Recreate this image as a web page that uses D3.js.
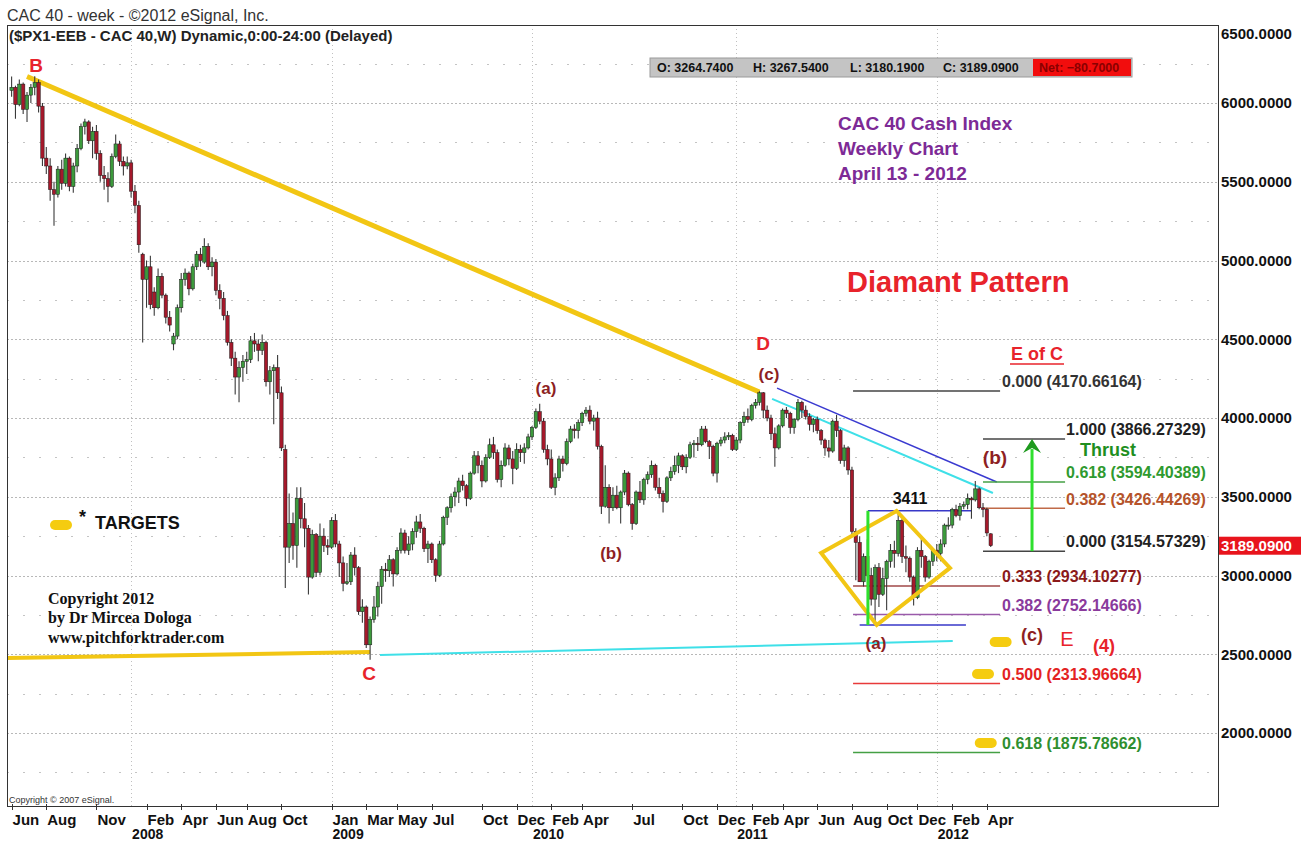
<!DOCTYPE html>
<html>
<head>
<meta charset="utf-8">
<script src="https://cdnjs.cloudflare.com/ajax/libs/d3/7.8.5/d3.min.js"></script>
<style>
  body { margin: 0; background: #fff; }
  svg { display: block; }
</style>
</head>
<body>
<div class="first"></div>
<script>
// weekly candles [open, high, low, close], one array per year
const c2007 = [
  [6080,6168,6040,6100],[6100,6110,5900,5990],[5990,6150,5980,6120],[6120,6130,5930,5960],
  [5960,6070,5880,6050],[6050,6120,6000,6100],[6100,6170,6050,6130],[6130,6150,5940,5980],
  [5980,6000,5600,5650],[5650,5720,5550,5600],[5600,5650,5380,5450],[5450,5500,5220,5420],
  [5420,5600,5400,5580],[5580,5640,5450,5490],[5490,5680,5470,5650],[5650,5660,5440,5470],
  [5470,5620,5430,5600],[5600,5740,5560,5710],[5710,5870,5700,5850],[5850,5900,5800,5880],
  [5880,5890,5740,5760],[5760,5850,5650,5820],[5820,5860,5640,5680],[5680,5700,5500,5540],
  [5540,5600,5450,5520],[5520,5560,5370,5470],[5470,5680,5460,5660],[5660,5800,5650,5740],
  [5740,5760,5600,5630],[5630,5660,5540,5600],[5600,5660,5580,5620]
];
const c2008 = [
  [5620,5640,5400,5440],[5440,5480,5300,5350],[5350,5380,5050,5100],[5040,5050,4480,4880],
  [4880,5000,4700,4960],[4960,5030,4690,4720],[4800,4830,4650,4700],[4700,4950,4690,4900],
  [4900,4920,4760,4780],[4780,4790,4600,4640],[4640,4680,4550,4590],[4470,4540,4430,4520],
  [4520,4720,4500,4700],[4700,4920,4670,4880],[4880,4950,4840,4920],[4920,4930,4780,4820],
  [4820,4980,4810,4960],[4960,5060,4940,5040],[5040,5080,4960,5000],[4990,5142,4980,5090],
  [5090,5110,4940,4960],[4960,5020,4900,4990],[4990,5010,4780,4810],[4810,4850,4690,4760],
  [4760,4800,4620,4650],[4650,4680,4460,4480],[4480,4500,4330,4380],[4380,4420,4150,4260],
  [4260,4360,4100,4320],[4320,4400,4230,4360],[4360,4420,4280,4370],[4370,4520,4350,4490],
  [4490,4540,4420,4470],[4470,4500,4360,4430],[4430,4530,4400,4480],[4480,4490,4200,4230],
  [4230,4330,4150,4300],[4300,4340,3960,4320],[4320,4400,4120,4160],[4160,4200,3790,3810],
  [3800,3830,2920,3180],[3180,3520,3080,3330],[3330,3400,3100,3190],[3190,3560,3050,3490],
  [3490,3560,3300,3360],[3360,3460,3180,3300],[3300,3320,2880,2990],[2990,3290,2980,3260],
  [3260,3270,2990,3020],[3020,3330,3000,3250],[3250,3300,3150,3190],[3190,3230,3130,3180]
];
const c2009 = [
  [3180,3370,3170,3350],[3350,3390,3180,3200],[3200,3220,2990,3080],[3080,3120,2900,2950],
  [2950,3080,2940,2960],[2960,3150,2940,3130],[3130,3180,3000,3050],[3050,3060,2750,2770],
  [2770,2850,2700,2800],[2800,2810,2540,2560],[2560,2740,2465,2720],[2720,2870,2700,2800],
  [2800,2960,2740,2930],[2930,3060,2820,3040],[3040,3080,2960,3030],[3030,3130,2990,3100],
  [3100,3110,2930,3010],[3010,3180,3000,3160],[3160,3300,3140,3270],[3270,3290,3140,3160],
  [3160,3250,3130,3200],[3200,3300,3160,3280],[3280,3380,3240,3340],[3340,3390,3270,3300],
  [3300,3310,3150,3170],[3170,3220,3080,3200],[3200,3210,3080,3100],[3100,3110,2960,3000],
  [3000,3220,2990,3200],[3200,3380,3190,3370],[3370,3440,3320,3430],[3430,3520,3400,3500],
  [3500,3560,3440,3530],[3530,3620,3460,3600],[3600,3640,3540,3570],[3570,3580,3440,3490],
  [3490,3660,3480,3650],[3650,3790,3640,3760],[3760,3790,3650,3700],[3700,3730,3560,3600],
  [3600,3770,3590,3750],[3750,3870,3740,3830],[3830,3880,3740,3780],[3780,3800,3590,3610],
  [3610,3730,3560,3700],[3700,3840,3690,3810],[3810,3830,3700,3740],[3740,3790,3580,3680],
  [3680,3840,3670,3800],[3800,3830,3720,3780],[3780,3840,3710,3810],[3810,3900,3800,3880]
];
const c2010 = [
  [3880,3950,3860,3940],[3940,4060,3930,4040],[4040,4090,3960,3980],[3980,4000,3780,3800],
  [3800,3830,3700,3740],[3740,3800,3550,3560],[3560,3650,3510,3620],[3620,3760,3600,3740],
  [3740,3760,3660,3710],[3710,3870,3700,3850],[3850,3950,3840,3930],[3930,3960,3870,3920],
  [3920,3990,3870,3970],[3970,4040,3950,4030],[4030,4070,4010,4050],[4050,4080,3960,3980],
  [3980,4020,3920,4000],[4000,4040,3800,3820],[3820,3830,3390,3440],[3440,3700,3430,3560],
  [3560,3580,3330,3430],[3430,3560,3410,3510],[3510,3570,3420,3430],[3430,3540,3330,3530],
  [3530,3670,3510,3650],[3650,3660,3440,3450],[3450,3460,3290,3330],[3330,3540,3320,3530],
  [3530,3600,3460,3480],[3480,3620,3450,3610],[3610,3660,3580,3640],[3640,3730,3620,3700],
  [3700,3710,3540,3560],[3560,3620,3490,3520],[3520,3540,3400,3470],[3470,3630,3460,3620],
  [3620,3690,3600,3660],[3660,3760,3640,3700],[3700,3780,3650,3760],[3760,3770,3670,3690],
  [3690,3770,3650,3750],[3750,3850,3740,3830],[3830,3860,3750,3840],[3840,3880,3790,3830],
  [3830,3950,3820,3930],[3930,3950,3840,3850],[3850,3860,3740,3820],[3820,3830,3630,3650],
  [3650,3850,3590,3840],[3840,3880,3820,3860],[3860,3910,3840,3880],[3880,3910,3860,3890],
  [3890,3900,3790,3800]
];
const c2011 = [
  [3800,3880,3790,3860],[3860,3980,3840,3970],[3970,4040,3950,4010],[4010,4060,3970,3990],
  [3990,4090,3980,4080],[4080,4120,4060,4100],[4100,4170,4080,4160],[4160,4165,4000,4050],
  [4050,4080,3980,4000],[4000,4020,3860,3900],[3900,3940,3690,3810],[3810,3960,3800,3950],
  [3950,4060,3940,4050],[4050,4070,4000,4030],[4030,4040,3900,3940],[3940,4000,3900,3990],
  [3990,4120,3980,4100],[4100,4110,4000,4050],[4050,4080,3990,4010],[4010,4030,3920,3960],
  [3960,4000,3910,3990],[3990,4010,3900,3920],[3920,3930,3830,3860],[3860,3870,3760,3810],
  [3810,3860,3750,3790],[3790,3990,3780,3980],[3980,4020,3880,3920],[3920,3930,3710,3730],
  [3730,3830,3690,3810],[3810,3820,3640,3670],[3670,3690,3260,3280],[3280,3300,2970,3210],
  [3210,3250,2960,2960],[2960,3140,2930,3120],[3120,3230,2990,3000],[3000,3050,2810,2850],
  [2850,3070,2690,3050],[3050,3080,2800,2880],[2880,3050,2870,2980],[2980,3100,2780,3090],
  [3090,3200,3050,3160],[3160,3220,3050,3140],[3140,3411,3120,3350],[3350,3360,3080,3120],
  [3120,3190,3020,3110],[3110,3120,2960,2990],[2990,3000,2810,2860],[2860,3180,2850,3160],
  [3160,3240,3050,3120],[3120,3130,2960,2990],[2990,3100,2980,3090],[3090,3170,3060,3160]
];
const c2012 = [
  [3160,3200,3090,3140],[3140,3230,3090,3200],[3200,3330,3180,3320],[3320,3370,3290,3320],
  [3320,3430,3300,3420],[3420,3450,3370,3380],[3380,3460,3350,3440],[3440,3470,3420,3450],
  [3450,3520,3420,3490],[3490,3500,3360,3480],[3480,3600,3470,3550],[3550,3560,3420,3430],
  [3430,3460,3370,3420],[3420,3430,3250,3270],[3264.74,3267.54,3180.19,3189.09]
];

const priceTicks = [2000, 2500, 3000, 3500, 4000, 4500, 5000, 5500, 6000, 6500];
const monthTicks = [
  ['2007-06','Jun'],['2007-08','Aug'],['2007-11','Nov'],['2008-02','Feb'],['2008-04','Apr'],
  ['2008-06','Jun'],['2008-08','Aug'],['2008-10','Oct'],['2009-01','Jan'],['2009-03','Mar'],
  ['2009-05','May'],['2009-07','Jul'],['2009-10','Oct'],['2009-12','Dec'],['2010-02','Feb'],
  ['2010-04','Apr'],['2010-07','Jul'],['2010-10','Oct'],['2010-12','Dec'],['2011-02','Feb'],
  ['2011-04','Apr'],['2011-06','Jun'],['2011-08','Aug'],['2011-10','Oct'],['2011-12','Dec'],
  ['2012-02','Feb'],['2012-04','Apr']
];
const yearTicks = [2008, 2009, 2010, 2011, 2012];
const lastQuote = {o: 3264.74, h: 3267.54, l: 3180.19, c: 3189.09, net: -80.70};

// drawn trend lines and pattern, as [date, price] points
const trendBD = [['2007-06-29', 6168], ['2011-02-18', 4165]];
const trendAC = [['2007-05-24', 2476], ['2009-03-13', 2514]];
const trendCE = [['2009-03-31', 2495], ['2012-02-04', 2584]];
const upperBlue = [['2011-03-22', 4190], ['2012-04-24', 3594]];
const upperCyan = [['2011-03-13', 4121], ['2012-04-17', 3524]];
const diamond = [['2011-06-10', 3143], ['2011-10-25', 3410], ['2012-01-30', 3048], ['2011-09-19', 2686]];
const high3411 = [['2011-09-03', 3411], ['2012-03-10', 3411]];
const lowLine = [['2011-08-19', 2686], ['2012-02-28', 2686]];
const thrustLeg = [['2011-09-03', 2686], ['2011-09-03', 3411]];
const fibA = [[0.000, 4170.66164], [0.333, 2934.10277], [0.382, 2752.14666], [0.500, 2313.96664], [0.618, 1875.78662]];
const fibB = [[1.000, 3866.27329], [0.618, 3594.40389], [0.382, 3426.44269], [0.000, 3154.57329]];
const fibASpan = ['2011-08-07', '2012-04-30'];
const fibBSpan = ['2012-03-30', '2012-08-26'];
const thrustArrow = ['2012-06-27', 3154.57329, 3866.27329];
const targets = [['2012-05-01', 2578], ['2012-03-30', 2375], ['2012-04-04', 1937]];

const fibAColors = ['#333333', '#8b1a1a', '#8a3a9c', '#e32222', '#2f8f2f'];
const fibALines = ['#444444', '#a04848', '#9a5aaa', '#e83a3a', '#44a044'];
const fibBColors = ['#222222', '#2f9a2f', '#b5532a', '#222222'];
const fibBLines = ['#444444', '#44a044', '#c06a48', '#444444'];

const W = 1313, H = 843;
const plot = {left: 7, right: 1218, top: 25, bottom: 806};
const sans = "Arial, 'Liberation Sans', sans-serif";
const serif = "'Times New Roman', 'Liberation Serif', serif";
const darkRed = '#8e1f23';
const red = '#e8232b';

const parse = d3.timeParse('%Y-%m-%d');
const parseMonth = d3.timeParse('%Y-%m');

const weeks = d3.timeFriday.range(new Date(2007, 5, 1), new Date(2012, 3, 14));
const candles = [].concat(c2007, c2008, c2009, c2010, c2011, c2012).map(function(d, i) {
  return {date: weeks[i], o: d[0], h: d[1], l: d[2], c: d[3]};
});

const x = d3.scaleTime()
  .domain([new Date(2009, 0, 1), new Date(2012, 0, 1)])
  .range([331, 934]);
const y = d3.scaleLinear()
  .domain([2000, 6000])
  .range([733, 103]);

const svg = d3.select('.first')
  .append('svg')
  .attr('width', W)
  .attr('height', H)
  .style('font-family', sans);

svg.append('rect').attr('width', W).attr('height', H).attr('fill', '#fff');

// header
svg.append('text').attr('x', 7).attr('y', 21).attr('font-size', 16).attr('fill', '#333')
  .text('CAC 40 - week - \u00a92012 eSignal, Inc.');

svg.append('clipPath').attr('id', 'plotclip').append('rect')
  .attr('x', plot.left).attr('y', plot.top)
  .attr('width', plot.right - plot.left).attr('height', plot.bottom - plot.top);

const g = svg.append('g').attr('clip-path', 'url(#plotclip)');

// grid
const gridVals = d3.range(1750, 6500, 250);
g.selectAll('.hgrid').data(gridVals).enter().append('line')
  .attr('x1', plot.left).attr('x2', plot.right)
  .attr('y1', d => Math.round(y(d)) + 0.5).attr('y2', d => Math.round(y(d)) + 0.5)
  .attr('stroke', d => d % 500 === 0 ? '#b8b8b8' : '#c4c4c4')
  .attr('stroke-dasharray', d => d % 500 === 0 ? '2,2' : '2,14');

const yearStarts = yearTicks.map(yr => d3.timeFriday.ceil(new Date(yr, 0, 1)));
g.selectAll('.vgrid').data(yearStarts).enter().append('line')
  .attr('x1', d => Math.round(x(d)) + 0.5).attr('x2', d => Math.round(x(d)) + 0.5)
  .attr('y1', plot.top).attr('y2', plot.bottom)
  .attr('stroke', '#c0c0c0').attr('stroke-dasharray', '1,3');

// second header line (inside the frame)
svg.append('text').attr('x', 9).attr('y', 41).attr('font-size', 15).attr('font-weight', 'bold')
  .attr('fill', '#222')
  .text('($PX1-EEB - CAC 40,W) Dynamic,0:00-24:00 (Delayed)');

// quote bar
const qb = svg.append('g');
qb.append('rect').attr('x', 650).attr('y', 58).attr('width', 482).attr('height', 19)
  .attr('fill', '#c4c4c4').attr('stroke', '#9a9a9a');
qb.append('rect').attr('x', 1033).attr('y', 59).attr('width', 98).attr('height', 17).attr('fill', '#f20d0d');
const qfmt = d3.format('.4f');
const qItems = [['O: ', lastQuote.o, 657], ['H: ', lastQuote.h, 753], ['L: ', lastQuote.l, 850], ['C: ', lastQuote.c, 943]];
qb.selectAll('.q').data(qItems).enter().append('text')
  .attr('x', d => d[2]).attr('y', 72).attr('font-size', 12.5).attr('font-weight', 'bold').attr('fill', '#111')
  .text(d => d[0] + qfmt(d[1]));
qb.append('text').attr('x', 1039).attr('y', 72).attr('font-size', 12.5).attr('font-weight', 'bold')
  .attr('fill', '#8a0000').text('Net: ' + qfmt(lastQuote.net));

// trend lines
const pt = d => [x(parse(d[0])), y(d[1])];
function seg(pts, color, width) {
  g.append('path').attr('d', d3.line()(pts.map(pt)))
    .attr('fill', 'none').attr('stroke', color).attr('stroke-width', width).attr('stroke-linecap', 'butt');
}
seg(trendBD, '#f2c614', 5);
seg(trendAC, '#f2c614', 4);
seg(trendCE, '#3fe0e8', 2);
seg(upperBlue, '#3a3ad0', 1.5);
seg(upperCyan, '#3fe0e8', 2);
seg(high3411, '#3838c8', 1.5);
seg(lowLine, '#3838c8', 1.5);

// fib lines
g.selectAll('.fibA').data(fibA).enter().append('line')
  .attr('x1', x(parse(fibASpan[0]))).attr('x2', x(parse(fibASpan[1])))
  .attr('y1', d => y(d[1])).attr('y2', d => y(d[1]))
  .attr('stroke', (d, i) => fibALines[i]).attr('stroke-width', 1.5);
g.selectAll('.fibB').data(fibB).enter().append('line')
  .attr('x1', x(parse(fibBSpan[0]))).attr('x2', x(parse(fibBSpan[1])))
  .attr('y1', d => y(d[1])).attr('y2', d => y(d[1]))
  .attr('stroke', (d, i) => fibBLines[i]).attr('stroke-width', 1.5);

// candles
const cg = g.append('g');
cg.selectAll('.wick').data(candles).enter().append('line')
  .attr('x1', d => x(d.date)).attr('x2', d => x(d.date))
  .attr('y1', d => y(d.h)).attr('y2', d => y(d.l))
  .attr('stroke', '#3a3a3a').attr('stroke-width', 1.1);
cg.selectAll('.body').data(candles).enter().append('rect')
  .attr('x', d => x(d.date) - 1.7).attr('width', 3.4)
  .attr('y', d => y(Math.max(d.o, d.c)))
  .attr('height', d => Math.max(1, Math.abs(y(d.o) - y(d.c))))
  .attr('fill', d => d.c >= d.o ? '#3c9a3c' : '#a5192b')
  .attr('stroke', '#1a1a1a').attr('stroke-width', 0.5);

// diamond and thrust leg
g.append('path').attr('d', d3.line()(diamond.map(pt)) + 'Z')
  .attr('fill', 'none').attr('stroke', '#f2c614').attr('stroke-width', 4).attr('stroke-linejoin', 'miter');
seg(thrustLeg, '#2ee02e', 3);

// thrust arrow
const ax = x(parse(thrustArrow[0]));
g.append('line').attr('x1', ax).attr('x2', ax)
  .attr('y1', y(thrustArrow[1])).attr('y2', y(thrustArrow[2]) + 10)
  .attr('stroke', '#2ee02e').attr('stroke-width', 3);
g.append('path')
  .attr('d', `M${ax - 9},${y(thrustArrow[2]) + 14} L${ax},${y(thrustArrow[2])} L${ax + 9},${y(thrustArrow[2]) + 14} L${ax},${y(thrustArrow[2]) + 9} Z`)
  .attr('fill', '#1e9a1e');

// target pills
function pill(cx, cy) {
  svg.append('rect').attr('x', cx - 11).attr('y', cy - 5).attr('width', 22).attr('height', 10)
    .attr('rx', 5).attr('ry', 5).attr('fill', '#f5cc10');
}
targets.forEach(d => pill(x(parse(d[0])), y(d[1])));
pill(61, 525);

// frame
svg.append('rect').attr('x', plot.left + 0.5).attr('y', plot.top + 0.5)
  .attr('width', plot.right - plot.left).attr('height', plot.bottom - plot.top)
  .attr('fill', 'none').attr('stroke', '#333');

// y axis labels
svg.selectAll('.ylab').data(priceTicks).enter().append('text')
  .attr('x', 1221).attr('y', d => Math.max(y(d), 34))
  .attr('dy', '0.36em').attr('font-size', 15).attr('font-weight', 'bold').attr('fill', '#111')
  .text(d => qfmt(d));
svg.append('rect').attr('x', 1219).attr('y', y(lastQuote.c) - 9).attr('width', 82).attr('height', 18)
  .attr('fill', '#e8141c');
svg.append('text').attr('x', 1221).attr('y', y(lastQuote.c)).attr('dy', '0.36em')
  .attr('font-size', 15).attr('font-weight', 'bold').attr('fill', '#fff').text(qfmt(lastQuote.c));

// x axis
const mt = monthTicks.map(d => ({date: d3.timeFriday.ceil(parseMonth(d[0])), label: d[1]}));
svg.selectAll('.xtick').data(mt).enter().append('line')
  .attr('x1', d => Math.round(x(d.date)) + 0.5).attr('x2', d => Math.round(x(d.date)) + 0.5)
  .attr('y1', plot.bottom - 2).attr('y2', plot.bottom + 4).attr('stroke', '#333');
svg.selectAll('.xlab').data(mt).enter().append('text')
  .attr('x', d => x(d.date) + 1).attr('y', 825)
  .attr('font-size', 15).attr('font-weight', 'bold').attr('fill', '#111')
  .text(d => d.label);
svg.selectAll('.ylab2').data(yearStarts).enter().append('text')
  .attr('x', d => x(d) + 1).attr('y', 839)
  .attr('font-size', 14).attr('font-weight', 'bold').attr('fill', '#111')
  .text(d => d.getFullYear());

// annotations
function label(txt, px, py, opts) {
  opts = opts || {};
  return svg.append('text').attr('x', px).attr('y', py).attr('dy', '0.36em')
    .attr('text-anchor', opts.anchor || 'middle')
    .attr('font-size', opts.size || 17).attr('font-weight', opts.weight || 'bold')
    .attr('font-family', opts.family || sans)
    .attr('fill', opts.color || darkRed).text(txt);
}
label('B', 36, 65, {color: red, size: 19});
label('C', 369, 673, {color: red, size: 19});
label('D', 763, 343, {color: red, size: 19});
label('(c)', 769, 374);
label('(a)', 546, 388);
label('(b)', 611, 553);
label('(a)', 876, 643);
label('(b)', 995, 457, {size: 19});
label('(c)', 1032, 635, {size: 18});
label('E', 1067, 639, {color: red, size: 20, weight: 'normal'});
label('(4)', 1104, 646, {color: red, size: 18});
label('3411', 910, 498, {color: '#111', size: 16});
label('Thrust', 1080, 450, {color: '#1f8f1f', size: 18, anchor: 'start'});
label('Diamant Pattern', 847, 282, {color: red, size: 29, anchor: 'start'});
label('E of C', 1037, 354, {color: red, size: 18});
svg.append('line').attr('x1', 1010).attr('x2', 1064).attr('y1', 364).attr('y2', 364)
  .attr('stroke', red).attr('stroke-width', 1.5);

['CAC 40 Cash Index', 'Weekly Chart', 'April 13 - 2012'].forEach(function(t, i) {
  label(t, 838, 123 + i * 25, {color: '#7d2a96', size: 19, anchor: 'start'});
});

const f3 = d3.format('.3f');
fibA.forEach(function(d, i) {
  label(f3(d[0]) + ' (' + d[1].toFixed(5) + ')', x(parse(fibASpan[1])) + 2, y(d[1]) - 9.5,
    {color: fibAColors[i], size: 16, anchor: 'start'});
});
fibB.forEach(function(d, i) {
  label(f3(d[0]) + ' (' + d[1].toFixed(5) + ')', x(parse(fibBSpan[1])) + 1, y(d[1]) - 9.5,
    {color: fibBColors[i], size: 16, anchor: 'start'});
});

label('*', 79, 517, {color: '#111', size: 18, anchor: 'start'});
label('TARGETS', 95, 523, {color: '#111', size: 18, anchor: 'start'});

['Copyright 2012', 'by Dr Mircea Dologa', 'www.pitchforktrader.com'].forEach(function(t, i) {
  label(t, 48, 598 + i * 19.5, {color: '#111', size: 16, anchor: 'start', family: serif});
});

svg.append('text').attr('x', 9).attr('y', 803).attr('font-size', 9).attr('fill', '#333')
  .text('Copyright \u00a9 2007 eSignal.');
</script>
</body>
</html>
